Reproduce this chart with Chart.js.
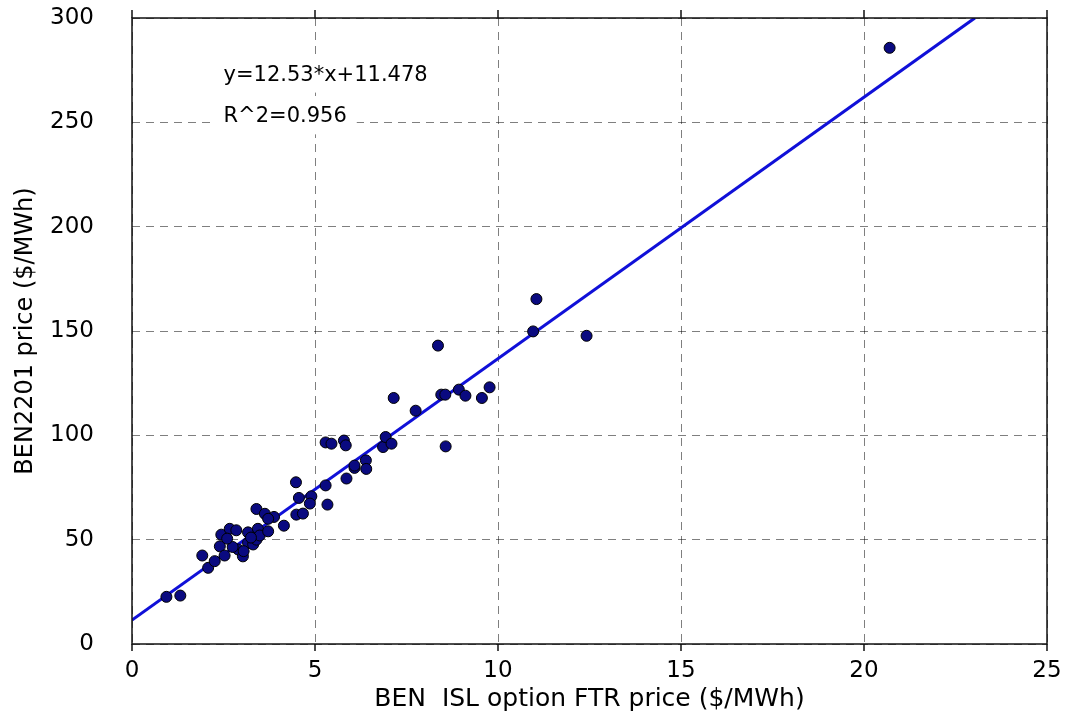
<!DOCTYPE html>
<html>
<head>
<meta charset="utf-8">
<script src="https://cdn.jsdelivr.net/npm/chart.js@4/dist/chart.umd.min.js"></script>
<style>
  html, body { margin: 0; padding: 0; background: #fff; }
</style>
</head>
<body>
<canvas id="chart" width="1068" height="714"></canvas>
<script>
// FTR price vs BEN2201 price
var ftrPrice = [
  0.94, 1.32, 1.92, 2.08, 2.26, 2.40, 2.53, 2.44, 2.67, 2.85,
  2.90, 3.03, 3.17, 3.17, 3.31, 3.40, 3.44, 3.49, 3.72, 3.40,
  3.63, 3.88, 3.72, 4.15, 2.75, 3.05, 2.60, 3.25,
  4.48, 4.56, 4.90, 4.86, 4.49, 4.67, 5.29, 5.34, 5.86, 6.08,
  6.08, 6.39, 6.40, 5.29, 5.45, 5.79, 5.84, 6.86, 6.93, 7.09,
  7.15, 7.75, 8.45, 8.56, 8.57, 8.93, 9.11, 9.56, 9.77, 8.36,
  11.05, 10.96, 12.42, 20.70
];
var benPrice = [
  22.6, 23.2, 42.4, 36.5, 39.7, 46.8, 42.4, 52.4, 55.2, 54.5,
  45.3, 42.0, 48.5, 53.5, 47.7, 50.0, 55.2, 52.0, 54.0, 64.7,
  62.4, 60.9, 60.0, 56.7, 46.5, 44.5, 50.5, 51.0,
  77.5, 70.0, 70.8, 67.3, 62.0, 62.5, 76.0, 66.8, 79.3, 84.4,
  85.5, 88.0, 83.9, 96.6, 96.0, 97.5, 95.2, 94.4, 99.2, 96.0,
  117.9, 111.8, 119.5, 119.5, 94.7, 121.9, 119.0, 117.9, 123.0, 143.0,
  165.3, 149.8, 147.7, 285.7
];

// fitted line end points (y=12.53*x+11.478)
var fitX = [0, 23.03];
var fitY = [11.478, 300.04];

var fitLabels = ['y=12.53*x+11.478', 'R^2=0.956'];
var fitLabelX = [2.5, 2.5];
var fitLabelY = [270, 250];

var xTicks = [0, 5, 10, 15, 20, 25];

Chart.defaults.font.family = 'DejaVu Sans';
Chart.defaults.color = '#000';

var points = ftrPrice.map(function (v, i) { return {x: v, y: benPrice[i]}; });
var fitPoints = fitX.map(function (v, i) { return {x: v, y: fitY[i]}; });

var frame = {
  id: 'frame',
  beforeDatasetsDraw: function (chart) {
    var c = chart.ctx, xs = chart.scales.x, ys = chart.scales.y;
    c.save();
    c.font = '21px "DejaVu Sans"';
    c.textBaseline = 'alphabetic';
    fitLabels.forEach(function (t, i) {
      var px = xs.getPixelForValue(fitLabelX[i]);
      var py = ys.getPixelForValue(fitLabelY[i]);
      var m = c.measureText(t);
      c.fillStyle = '#fff';
      c.fillRect(px - 10, py - 26, m.width + 20, 38);
      c.fillStyle = '#000';
      c.fillText(t, px, py);
    });
    c.restore();
  },
  afterDatasetsDraw: function (chart) {
    var c = chart.ctx, a = chart.chartArea, xs = chart.scales.x;
    c.save();
    c.strokeStyle = '#111';
    c.lineWidth = 1.5;
    c.strokeRect(a.left, a.top, a.right - a.left, a.bottom - a.top);
    c.beginPath();
    xTicks.forEach(function (t) {
      var px = xs.getPixelForValue(t);
      c.moveTo(px, a.bottom); c.lineTo(px, a.bottom + 7);
      c.moveTo(px, a.top); c.lineTo(px, a.top - 8);
    });
    c.stroke();
    c.restore();
  }
};

var ctx = document.getElementById('chart').getContext('2d');
var myChart = new Chart(ctx, {
  type: 'scatter',
  data: {
    datasets: [{
      type: 'line',
      data: fitPoints,
      borderColor: '#1010d8',
      borderWidth: 3,
      pointRadius: 0,
      fill: false,
      order: 2
    }, {
      data: points,
      backgroundColor: '#0a0a80',
      borderColor: '#000',
      borderWidth: 1,
      pointRadius: 5.5,
      order: 1
    }]
  },
  options: {
    responsive: false,
    animation: false,
    devicePixelRatio: 1,
    layout: {padding: {left: 0, right: 21, top: 18, bottom: 0}},
    plugins: {legend: {display: false}, tooltip: {enabled: false}},
    scales: {
      x: {
        type: 'linear', min: 0, max: 25,
        afterFit: function (s) { s.height = 70; },
        ticks: {stepSize: 5, padding: 3, font: {size: 23}, maxRotation: 0},
        grid: {color: 'rgba(0,0,0,0.5)', lineWidth: 1, drawTicks: true, tickLength: 10, tickColor: 'rgba(0,0,0,0)'},
        border: {display: false, dash: [8, 6]},
        title: {display: true, text: 'BEN  ISL option FTR price ($/MWh)', font: {size: 25}, padding: {top: 0, bottom: 0}}
      },
      y: {
        type: 'linear', min: 0, max: 300,
        afterFit: function (s) { s.width = 132; },
        ticks: {stepSize: 50, padding: 3, font: {size: 23}},
        grid: {color: 'rgba(0,0,0,0.5)', lineWidth: 1, drawTicks: true, tickLength: 35, tickColor: 'rgba(0,0,0,0)'},
        border: {display: false, dash: [8, 6]},
        title: {display: true, text: 'BEN2201 price ($/MWh)', font: {size: 24}, padding: {top: 11, bottom: 0}}
      }
    }
  },
  plugins: [frame]
});
</script>
</body>
</html>
